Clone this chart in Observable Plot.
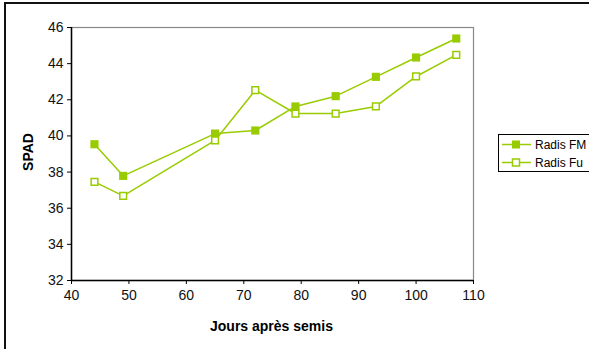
<!DOCTYPE html>
<html>
<head>
<meta charset="utf-8">
<script src="https://cdn.jsdelivr.net/npm/d3@7"></script>
<script src="https://cdn.jsdelivr.net/npm/@observablehq/plot@0.6"></script>
<style>
  html, body { margin: 0; padding: 0; background: #fff; }
  #wrap { position: relative; width: 589px; height: 349px; overflow: hidden; font-family: "Liberation Sans", Arial, sans-serif; }
  #frame { position: absolute; left: 4px; top: 2px; width: 600px; height: 360px; border: 2px solid #111; box-sizing: border-box; }
  #chart { position: absolute; left: 0; top: 0; }
  #legend { position: absolute; left: 498px; top: 134px; width: 100px; height: 38px; border: 1px solid #000; box-sizing: border-box; background: #fff; }
  .ylab { position: absolute; left: 28px; top: 152px; transform: translate(-50%, -50%) rotate(-90deg); font-weight: bold; font-size: 14px; color: #000; }
  .xlab { position: absolute; left: 271.5px; top: 326px; transform: translate(-50%, -50%); font-weight: bold; font-size: 14px; color: #000; white-space: nowrap; }
</style>
</head>
<body>
<div id="wrap">
  <div id="frame"></div>
  <div id="chart"></div>
  <div class="ylab">SPAD</div>
  <div class="xlab">Jours après semis</div>
  <div id="legend"></div>
</div>
<script>
// Days after sowing
const days = [44, 49, 65, 72, 79, 86, 93, 100, 107];
// SPAD readings for each radish treatment
const radisFM = [39.54, 37.79, 40.13, 40.30, 41.63, 42.20, 43.27, 44.34, 45.39];
const radisFu = [37.46, 36.68, 39.75, 42.53, 41.24, 41.24, 41.63, 43.29, 44.49];
const seriesNames = ["Radis FM", "Radis Fu"];
const xTicks = [40, 50, 60, 70, 80, 90, 100, 110];
const yTicks = [32, 34, 36, 38, 40, 42, 44, 46];

const green = "#99cc00";

const fm = days.map((d, i) => ({ day: d, spad: radisFM[i], series: seriesNames[0] }));
const fu = days.map((d, i) => ({ day: d, spad: radisFu[i], series: seriesNames[1] }));

const W = 589, H = 349;
const chart = Plot.plot({
  width: W,
  height: H,
  marginLeft: 71,
  marginTop: 27,
  marginRight: 116,
  marginBottom: 69,
  style: { fontFamily: "'Liberation Sans', Arial, sans-serif", fontSize: "14px", color: "#111", background: "transparent", overflow: "visible" },
  x: { domain: [40, 110], label: null },
  y: { domain: [32, 46], label: null },
  marks: [
    // gray frame on the top and right sides of the plot area
    Plot.frame({ stroke: "#888", strokeWidth: 1.2 }),
    Plot.axisX({ ticks: xTicks, tickSize: 4, tickPadding: 6, label: null, fontSize: 14, stroke: "#000" }),
    Plot.axisY({ ticks: yTicks, tickSize: 4, tickPadding: 4, label: null, fontSize: 14, stroke: "#000" }),
    Plot.ruleX([40], { stroke: "#000", strokeWidth: 1.5 }),
    Plot.ruleY([32], { stroke: "#000", strokeWidth: 1.5 }),
    Plot.line(fu, { x: "day", y: "spad", stroke: green, strokeWidth: 1.5 }),
    Plot.line(fm, { x: "day", y: "spad", stroke: green, strokeWidth: 1.5 }),
    Plot.dot(fm, { x: "day", y: "spad", symbol: "square", r: 4.6, fill: green, stroke: "none" }),
    Plot.dot(fu, { x: "day", y: "spad", symbol: "square", r: 3.8, fill: "#fff", stroke: green, strokeWidth: 1.5 })
  ]
});
document.getElementById("chart").appendChild(chart);

// legend entries: line sample with marker and series name
const lg = d3.select("#legend");
const svg = lg.append("svg").attr("width", 100).attr("height", 38).style("position", "absolute").style("left", "-1px").style("top", "-1px");
seriesNames.forEach((name, i) => {
  const cy = 10.5 + i * 18;
  svg.append("line").attr("x1", 4).attr("x2", 33).attr("y1", cy).attr("y2", cy).attr("stroke", green).attr("stroke-width", 1.5);
  if (i === 0) {
    svg.append("rect").attr("x", 14).attr("y", cy - 4).attr("width", 8).attr("height", 8).attr("fill", green);
  } else {
    svg.append("rect").attr("x", 14.5).attr("y", cy - 3.5).attr("width", 7).attr("height", 7).attr("fill", "#fff").attr("stroke", green).attr("stroke-width", 1.5);
  }
  svg.append("text").attr("x", 37).attr("y", cy).attr("dy", "0.35em")
    .attr("font-family", "'Liberation Sans', Arial, sans-serif").attr("font-size", 12).attr("fill", "#000").text(name);
});
</script>
</body>
</html>
